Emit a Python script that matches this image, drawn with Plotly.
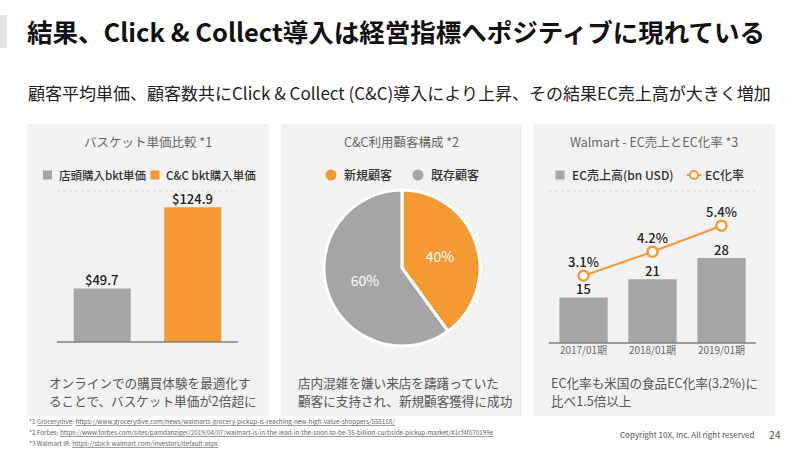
import plotly.graph_objects as go

W, H = 800, 449
def px(x): return x / W
def py(y): return 1 - y / H

FONT = "Noto Sans CJK JP"
ORANGE = "#F59A33"
GRAY = "#A5A5A5"
PANEL = "#F2F2F2"

# ---------------- data ----------------
title = "結果、Click & Collect導入は経営指標へポジティブに現れている"
subtitle = "顧客平均単価、顧客数共にClick & Collect (C&C)導入により上昇、その結果EC売上高が大きく増加"

basket_cats = ["店頭購入bkt単価", "C&C bkt購入単価"]
basket_vals = [49.7, 124.9]
basket_labels = ["$49.7", "$124.9"]

pie_labels = ["新規顧客", "既存顧客"]
pie_vals = [40, 60]

years = ["2017/01期", "2018/01期", "2019/01期"]
ec_sales = [15, 21, 28]
ec_rate = [3.1, 4.2, 5.4]
ec_rate_labels = ["3.1%", "4.2%", "5.4%"]

panel_titles = ["バスケット単価比較 *1", "C&C利用顧客構成 *2", "Walmart - EC売上とEC化率 *3"]
panel_notes = [
    ["オンラインでの購買体験を最適化す", "ることで、バスケット単価が2倍超に"],
    ["店内混雑を嫌い来店を躊躇っていた", "顧客に支持され、新規顧客獲得に成功"],
    ["EC化率も米国の食品EC化率(3.2%)に", "比べ1.5倍以上"],
]
footnotes = [
    "*1 <u>Grocerydive</u>: <u>https://www.grocerydive.com/news/walmarts-grocery-pickup-is-reaching-new-high-value-shoppers/555158/</u>",
    "*2 Forbes: <u>https://www.forbes.com/sites/pamdanziger/2019/04/07/walmart-is-in-the-lead-in-the-soon-to-be-35-billion-curbside-pickup-market/#1cf4f070199e</u>",
    "*3 Walmart IR: <u>https://stock.walmart.com/investors/default.aspx</u>",
]

# ---------------- figure ----------------
fig = go.Figure()

fig.add_trace(go.Bar(
    x=basket_cats, y=basket_vals, width=0.63,
    marker=dict(color=[GRAY, ORANGE], line=dict(width=0)),
    xaxis="x", yaxis="y", showlegend=False, hoverinfo="skip",
))

fig.add_trace(go.Pie(
    labels=pie_labels, values=pie_vals, sort=False, direction="clockwise", rotation=0,
    marker=dict(colors=[ORANGE, GRAY], line=dict(color="white", width=3)),
    textinfo="percent", texttemplate="%{percent:.0%}",
    textfont=dict(family=FONT, size=14, color="white"),
    insidetextorientation="horizontal",
    domain=dict(x=[px(324), px(480)], y=[py(346), py(190)]),
    showlegend=False, hoverinfo="skip",
))

fig.add_trace(go.Bar(
    x=years, y=ec_sales, width=0.7,
    marker=dict(color=GRAY, line=dict(width=0)),
    xaxis="x3", yaxis="y3", showlegend=False, hoverinfo="skip",
))

fig.add_trace(go.Scatter(
    x=years, y=ec_rate, mode="lines+markers",
    line=dict(color=ORANGE, width=2),
    marker=dict(size=10, color="white", line=dict(color=ORANGE, width=2.5)),
    cliponaxis=False,
    xaxis="x3", yaxis="y4", showlegend=False, hoverinfo="skip",
))

hidden = dict(showgrid=False, zeroline=False, showline=False, showticklabels=False, ticks="")
fig.update_layout(
    width=W, height=H, margin=dict(l=0, r=0, t=0, b=0),
    paper_bgcolor="white", plot_bgcolor="rgba(0,0,0,0)",
    font=dict(family=FONT),
    xaxis=dict(domain=[px(57), px(238)], anchor="y", **hidden),
    yaxis=dict(domain=[py(342), py(191)], anchor="x", range=[0, 140], **hidden),
    xaxis3=dict(domain=[px(549), px(756)], anchor="y3", showgrid=False, zeroline=False,
                showline=False, ticks="", tickfont=dict(family=FONT, size=10, color="#666")),
    yaxis3=dict(domain=[py(343), py(191)], anchor="x3", range=[0, 50], **hidden),
    yaxis4=dict(overlaying="y3", anchor="x3", range=[0, 7], **hidden),
)

shapes = []
shapes.append(dict(type="rect", xref="paper", yref="paper", x0=px(0), x1=px(7), y0=py(48), y1=py(15),
                   fillcolor="#E3E3E3", line=dict(width=0), layer="below"))
panels = [(27, 269), (281, 522), (533, 775)]
for x0, x1 in panels:
    shapes.append(dict(type="rect", xref="paper", yref="paper", x0=px(x0), x1=px(x1), y0=py(416), y1=py(124),
                       fillcolor=PANEL, line=dict(width=0), layer="below"))
for x0, x1, yb in [(57, 238, 342), (549, 756, 343)]:
    shapes.append(dict(type="line", xref="paper", yref="paper", x0=px(x0), x1=px(x1), y0=py(191), y1=py(191),
                       line=dict(color="#D6D6D6", width=1, dash="dot")))
    shapes.append(dict(type="line", xref="paper", yref="paper", x0=px(x0), x1=px(x1), y0=py(yb), y1=py(yb),
                       line=dict(color="#7F7F7F", width=1.5)))
def sq(cx, cy, color, s=9):
    return dict(type="rect", xref="paper", yref="paper", x0=px(cx - s / 2), x1=px(cx + s / 2),
                y0=py(cy + s / 2), y1=py(cy - s / 2), fillcolor=color, line=dict(width=0))
def circ(cx, cy, r, fill, line_color=None, lw=0):
    return dict(type="circle", xref="paper", yref="paper", x0=px(cx - r), x1=px(cx + r),
                y0=py(cy + r), y1=py(cy - r), fillcolor=fill,
                line=dict(color=line_color or fill, width=lw))
shapes.append(sq(47.5, 175, GRAY))
shapes.append(sq(155, 175, ORANGE))
shapes.append(circ(331, 175, 5.5, ORANGE))
shapes.append(circ(418, 175, 5.5, GRAY))
shapes.append(sq(560, 175, GRAY))
shapes.append(dict(type="line", xref="paper", yref="paper", x0=px(687), x1=px(701), y0=py(175), y1=py(175),
                   line=dict(color=ORANGE, width=2)))
shapes.append(circ(694, 175, 4, "white", ORANGE, 2))
fig.update_layout(shapes=shapes)

ann = []
def text(x, y, s, size, color="#333", anchor="left", bold=False, weight="normal"):
    ann.append(dict(x=px(x), y=py(y), xref="paper", yref="paper", text=f"<b>{s}</b>" if bold else s,
                    showarrow=False, xanchor=anchor, yanchor="middle",
                    font=dict(family=FONT, size=size, color=color, weight=weight)))

LBL = dict(family=FONT, size=13, color="#222", weight=500)
for cat, val, lab in zip(basket_cats, basket_vals, basket_labels):
    ann.append(dict(x=cat, y=val, xref="x", yref="y", text=lab, showarrow=False,
                    yanchor="bottom", yshift=-3, font=LBL))
for cat, val in zip(years, ec_sales):
    ann.append(dict(x=cat, y=val, xref="x3", yref="y3", text=str(val), showarrow=False,
                    yanchor="bottom", yshift=-3, font=LBL))
for cat, val, lab in zip(years, ec_rate, ec_rate_labels):
    ann.append(dict(x=cat, y=val, xref="x3", yref="y4", text=lab, showarrow=False,
                    yanchor="middle", yshift=14, font=LBL))

text(25, 31, title, 25.5, "#111", bold=True)
text(399, 92, subtitle, 17, "#222", anchor="center")

centers = [148, 402, 654]
for c, t in zip(centers, panel_titles):
    text(c, 142, t, 12.5, "#666", anchor="center")

text(57, 175, basket_cats[0], 11.5, "#333", weight=500)
text(164, 175, basket_cats[1], 11.5, "#333", weight=500)
text(342, 175, pie_labels[0], 12, "#333", weight=500)
text(429, 175, pie_labels[1], 12, "#333", weight=500)
text(570, 175, "EC売上高(bn USD)", 12, "#333", weight=500)
text(703, 175, "EC化率", 12, "#333", weight=500)

for x0, lines in zip([47, 296, 549], panel_notes):
    text(x0, 382, lines[0], 12.6, "#555")
    text(x0, 400, lines[1], 12.6, "#555")

for i, f in enumerate(footnotes):
    text(27, 421 + 11 * i, f, 6.3, "#666")

text(757, 434, "Copyright 10X, Inc. All right reserved", 8, "#555", anchor="right")
text(775, 434, "24", 10.5, "#555", anchor="center")

fig.update_layout(annotations=ann)
fig.write_html("out.html", config={"displayModeBar": False},
               post_script="document.body.style.margin='0';document.body.style.overflow='hidden';")
